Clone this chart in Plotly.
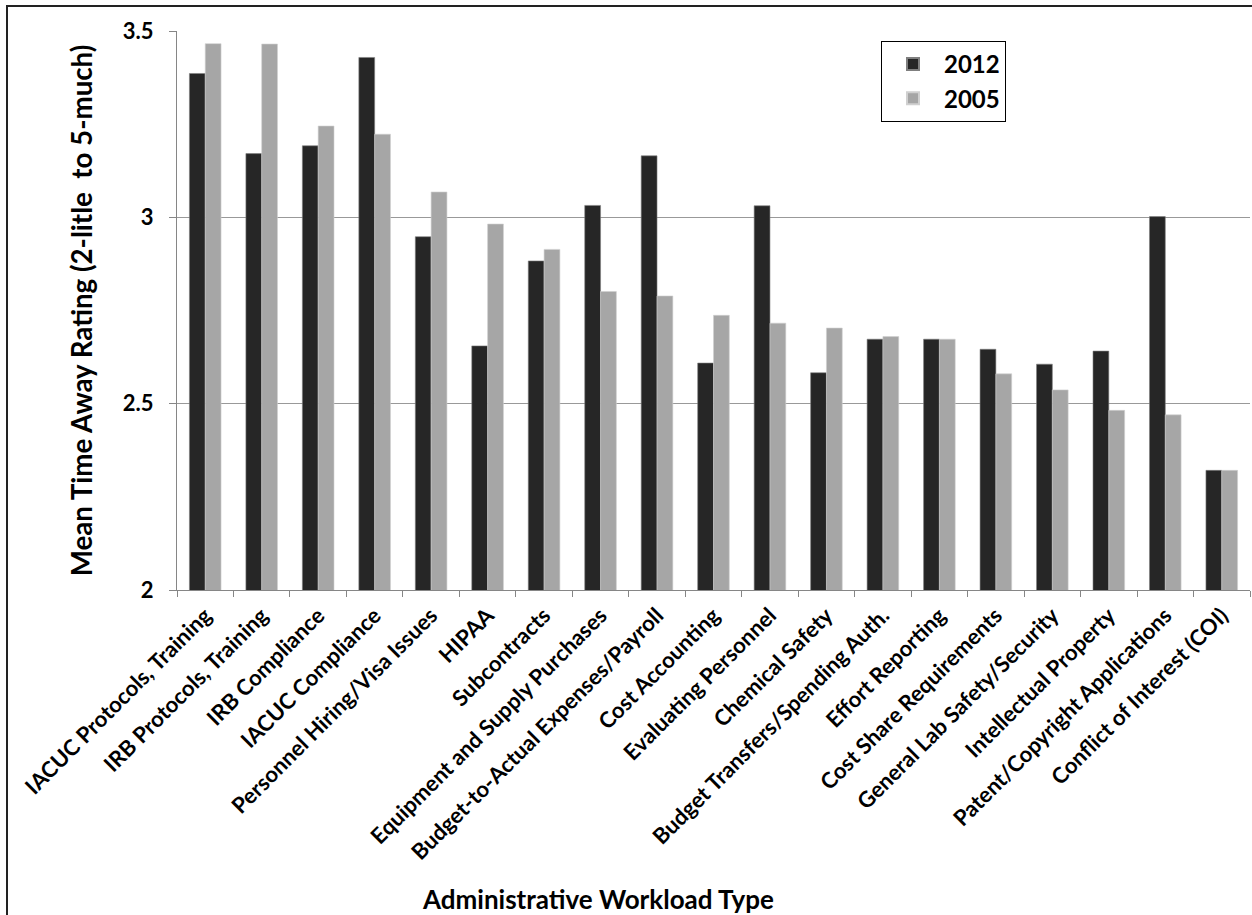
import plotly.graph_objects as go

categories = [
    "IACUC Protocols, Training", "IRB Protocols, Training", "IRB Compliance",
    "IACUC Compliance", "Personnel Hiring/Visa Issues", "HIPAA", "Subcontracts",
    "Equipment and Supply Purchases", "Budget-to-Actual Expenses/Payroll",
    "Cost Accounting", "Evaluating Personnel", "Chemical Safety",
    "Budget Transfers/Spending Auth.", "Effort Reporting", "Cost Share Requirements",
    "General Lab Safety/Security", "Intellectual Property",
    "Patent/Copyright Applications", "Conflict of Interest (COI)",
]
vals_2012 = [3.386, 3.171, 3.192, 3.429, 2.948, 2.655, 2.883, 3.032, 3.165,
             2.609, 3.031, 2.583, 2.673, 2.673, 2.646, 2.606, 2.641, 3.002, 2.321]
vals_2005 = [3.466, 3.465, 3.245, 3.223, 3.068, 2.982, 2.914, 2.801, 2.789,
             2.737, 2.716, 2.703, 2.680, 2.673, 2.580, 2.537, 2.482, 2.470, 2.321]
y_ticks = [2, 2.5, 3, 3.5]
y_tick_labels = ["2", "2.5", "3", "3.5"]

FONT = "Lato, 'Open Sans', sans-serif"

fig = go.Figure()
fig.add_trace(go.Bar(x=categories, y=vals_2012, name="<b>2012</b>",
                     marker=dict(color="#262626", line=dict(color="#7f7f7f", width=0.6))))
fig.add_trace(go.Bar(x=categories, y=vals_2005, name="<b>2005</b>",
                     marker=dict(color="#a6a6a6", line=dict(color="#d0d0d0", width=0.6))))

L, R, T, B = 177, 2, 31, 325
W, H = 1252, 915
pw = W - L - R
ph = H - T - B

def px_x(x):
    return (x - L) / pw

def px_y(y):
    return (H - B - y) / ph

fig.update_layout(
    width=W, height=H,
    margin=dict(l=L, r=R, t=T, b=B),
    paper_bgcolor="white", plot_bgcolor="white",
    barmode="group", bargap=0.44, bargroupgap=0,
    font=dict(family=FONT, color="black"),
    showlegend=True,
    legend=dict(x=px_x(881), y=px_y(41), xanchor="left", yanchor="top",
                bordercolor="black", borderwidth=1, bgcolor="white",
                font=dict(size=24, family=FONT, color="black"),
                traceorder="normal", itemsizing="constant", itemwidth=52),
    xaxis=dict(
        tickangle=-45, tickfont=dict(size=22, family=FONT, color="black"),
        showline=True, linecolor="#868686", linewidth=1,
        ticks="outside", ticklen=6, tickcolor="#868686", tickson="boundaries",
        ticklabelstandoff=3,
        showgrid=False,
        tickmode="array", tickvals=categories,
        ticktext=["<b>%s</b>" % c for c in categories],
    ),
    yaxis=dict(
        range=[2, 3.5], tickmode="array", tickvals=y_ticks,
        ticktext=["<b>%s</b>" % t for t in y_tick_labels],
        tickfont=dict(size=22, family=FONT, color="black"),
        showline=True, linecolor="#868686", linewidth=1,
        ticks="outside", ticklen=7, tickcolor="#868686",
        ticklabelstandoff=11,
        showgrid=True, gridcolor="#999999", gridwidth=1,
        zeroline=False,
        title=dict(text="<b>Mean Time Away Rating (2-litle  to 5-much)</b>",
                   font=dict(size=27.7, family=FONT, color="black"), standoff=22),
    ),
    annotations=[
        dict(text="<b>Administrative Workload Type</b>", xref="paper", yref="paper",
             x=px_x(598), y=px_y(899), xanchor="center", yanchor="middle",
             showarrow=False, font=dict(size=26, family=FONT, color="black")),
    ],
    shapes=[
        dict(type="rect", xref="paper", yref="paper",
             x0=px_x(7), x1=px_x(1270), y0=px_y(930), y1=px_y(6),
             line=dict(color="#222222", width=2), fillcolor="rgba(0,0,0,0)",
             layer="above"),
    ],
)

fig.write_html("out.html", config={"displayModeBar": False},
               post_script="document.body.style.margin='0';")
